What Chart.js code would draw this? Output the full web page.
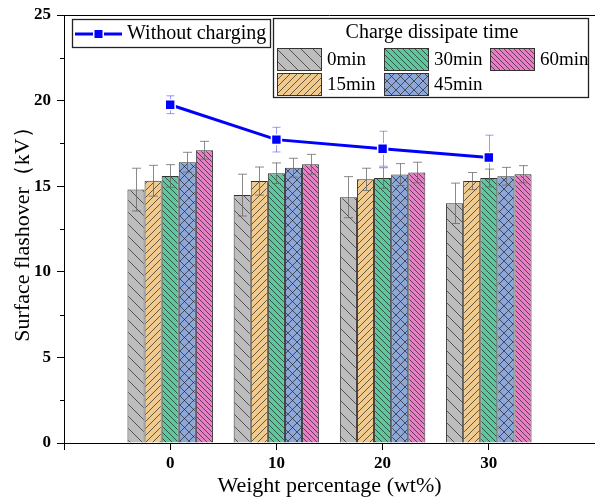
<!DOCTYPE html>
<html>
<head>
<meta charset="utf-8">
<script src="https://cdn.jsdelivr.net/npm/chart.js@4.4.0/dist/chart.umd.min.js"></script>
<style>
  html, body { margin: 0; padding: 0; background: #fff; overflow: hidden; }
  canvas { display: block; }
</style>
</head>
<body>
<canvas id="myChart" width="595" height="501"></canvas>
<script>
// weight percentage (wt%) of each group
const weights = [0, 10, 20, 30];
const xTicks = [-10, 0, 10, 20, 30, 40];
const yTicks = [0, 5, 10, 15, 20, 25];

// charge dissipate time series
const names = ['0min', '15min', '30min', '45min', '60min'];
const min0 = [14.8, 14.48, 14.36, 14.0];
const min15 = [15.32, 15.3, 15.4, 15.3];
const min30 = [15.6, 15.76, 15.48, 15.48];
const min45 = [16.4, 16.08, 15.68, 15.58];
const min60 = [17.1, 16.28, 15.8, 15.7];
const err0 = [1.25, 1.22, 1.2, 1.18];
const err15 = [0.9, 0.82, 0.65, 0.5];
const err30 = [0.66, 0.6, 0.6, 0.52];
const err45 = [0.58, 0.55, 0.64, 0.52];
const err60 = [0.52, 0.58, 0.6, 0.5];

// without charging
const noCharge = [19.76, 17.72, 17.19, 16.68];
const noChargeErr = [0.52, 0.72, 1.02, 1.3];

const FONT = "'Liberation Serif', 'Times New Roman', serif";

function makePattern(bg, kind, s) {
  var c = document.createElement('canvas');
  c.width = s; c.height = s;
  var g = c.getContext('2d');
  g.fillStyle = bg;
  g.fillRect(0, 0, s, s);
  g.strokeStyle = 'rgba(30,30,30,0.85)';
  g.lineWidth = 0.8;
  g.beginPath();
  if (kind == 'back' || kind == 'cross') {
    g.moveTo(-1, -1); g.lineTo(s + 1, s + 1);
    g.moveTo(-1, s - 1); g.lineTo(1, s + 1);
    g.moveTo(s - 1, -1); g.lineTo(s + 1, 1);
  }
  if (kind == 'fwd' || kind == 'cross') {
    g.moveTo(-1, s + 1); g.lineTo(s + 1, -1);
    g.moveTo(-1, 1); g.lineTo(1, -1);
    g.moveTo(s - 1, s + 1); g.lineTo(s + 1, s - 1);
  }
  g.stroke();
  return g.createPattern(c, 'repeat');
}

const fills = [
  makePattern('#bdbdbd', 'back', 12),
  makePattern('#f1cb8e', 'fwd', 7),
  makePattern('#5fc79e', 'back', 6),
  makePattern('#8da7d9', 'cross', 9),
  makePattern('#e77fc4', 'back', 5)
];
const barValues = [min0, min15, min30, min45, min60];
const barErrors = [err0, err15, err30, err45, err60];

function pts(vals) {
  return weights.map(function(w, i) { return {x: w, y: vals[i]}; });
}

var datasets = [{
  type: 'line',
  label: 'Without charging',
  data: pts(noCharge),
  errors: noChargeErr,
  errColor: 'rgba(70,70,255,0.55)',
  errCap: 4,
  borderColor: '#0000ff',
  backgroundColor: '#0000ff',
  borderWidth: 3,
  pointStyle: 'rect',
  pointRadius: 7,
  pointBorderColor: '#fff',
  pointBorderWidth: 1.5,
  order: 0
}];
names.forEach(function(n, k) {
  datasets.push({
    type: 'bar',
    label: n,
    data: pts(barValues[k]),
    errors: barErrors[k],
    errColor: 'rgba(100,100,100,0.75)',
    errCap: 4.5,
    backgroundColor: fills[k],
    borderColor: '#333',
    borderWidth: 1,
    categoryPercentage: 0.805,
    barPercentage: 1,
    order: 1
  });
});

function drawErrors(chart, idx) {
  var ds = chart.data.datasets[idx];
  if (!ds.errors) return;
  var meta = chart.getDatasetMeta(idx);
  var y = chart.scales.y;
  var ctx = chart.ctx;
  ctx.save();
  ctx.strokeStyle = ds.errColor;
  ctx.lineWidth = 1;
  meta.data.forEach(function(el, i) {
    var v = ds.data[i].y, e = ds.errors[i];
    var x = Math.round(el.x) + 0.5;
    var t = y.getPixelForValue(v + e), b = y.getPixelForValue(v - e);
    ctx.beginPath();
    ctx.moveTo(x, t); ctx.lineTo(x, b);
    ctx.moveTo(x - ds.errCap, t); ctx.lineTo(x + ds.errCap, t);
    ctx.moveTo(x - ds.errCap, b); ctx.lineTo(x + ds.errCap, b);
    ctx.stroke();
  });
  ctx.restore();
}

const extras = {
  id: 'extras',
  beforeDatasetDraw: function(chart, args) {
    if (chart.data.datasets[args.index].type == 'line') drawErrors(chart, args.index);
  },
  afterDatasetDraw: function(chart, args) {
    if (chart.data.datasets[args.index].type == 'bar') drawErrors(chart, args.index);
  },
  afterDraw: function(chart) {
    var ctx = chart.ctx, a = chart.chartArea, ys = chart.scales.y;
    ctx.save();
    // top frame
    ctx.strokeStyle = '#000';
    ctx.lineWidth = 1;
    ctx.beginPath();
    ctx.moveTo(a.left, a.top + 0.5); ctx.lineTo(a.right, a.top + 0.5);
    ctx.stroke();
    // minor y ticks
    ctx.beginPath();
    for (var k = 0; k < yTicks.length - 1; k++) {
      var py = Math.round(ys.getPixelForValue((yTicks[k] + yTicks[k + 1]) / 2)) + 0.5;
      ctx.moveTo(a.left - 4, py); ctx.lineTo(a.left, py);
    }
    ctx.stroke();

    // legend 1
    ctx.lineWidth = 1.3;
    ctx.strokeStyle = '#222';
    ctx.strokeRect(72.5, 19.5, 198, 28);
    ctx.strokeStyle = '#0000ff';
    ctx.lineWidth = 3;
    ctx.beginPath(); ctx.moveTo(75, 34); ctx.lineTo(122, 34); ctx.stroke();
    ctx.fillStyle = '#fff';
    ctx.fillRect(93, 28.5, 11, 11);
    ctx.fillStyle = '#0000ff';
    ctx.fillRect(94.5, 30, 8, 8);
    ctx.fillStyle = '#000';
    ctx.font = '20px ' + FONT;
    ctx.textBaseline = 'middle';
    ctx.textAlign = 'left';
    ctx.fillText('Without charging', 127, 34);

    // legend 2
    ctx.lineWidth = 1.3;
    ctx.strokeStyle = '#222';
    ctx.strokeRect(273.5, 18.5, 315, 79);
    ctx.textAlign = 'center';
    ctx.fillText('Charge dissipate time', 432, 33);
    ctx.textAlign = 'left';
    ctx.font = '19px ' + FONT;
    var slots = [[277, 48], [277, 73], [384, 48], [384, 73], [490, 48]];
    names.forEach(function(n, k) {
      var sx = slots[k][0], sy = slots[k][1];
      ctx.fillStyle = fills[k];
      ctx.fillRect(sx, sy, 44, 22);
      ctx.lineWidth = 1;
      ctx.strokeStyle = '#333';
      ctx.strokeRect(sx + 0.5, sy + 0.5, 44, 22);
      ctx.fillStyle = '#000';
      ctx.fillText(n, sx + 50, sy + 12);
    });
    ctx.restore();
  }
};

new Chart('myChart', {
  type: 'bar',
  data: { datasets: datasets },
  plugins: [extras],
  options: {
    responsive: false,
    animation: false,
    events: [],
    layout: { autoPadding: false, padding: { top: 15, right: 0, left: 0, bottom: 0 } },
    plugins: { legend: { display: false }, tooltip: { enabled: false } },
    scales: {
      x: {
        type: 'linear',
        min: xTicks[0],
        max: xTicks[xTicks.length - 1],
        offset: false,
        afterFit: function(s) { s.height = 58; s.paddingLeft = 0; s.paddingRight = 0; },
        afterBuildTicks: function(s) { s.ticks = xTicks.map(function(v) { return {value: v}; }); },
        grid: { drawOnChartArea: false, offset: false, tickLength: 7, tickColor: '#000' },
        border: { color: '#000', width: 1 },
        ticks: {
          color: '#000',
          padding: 3,
          font: { family: FONT, size: 17, weight: 'bold' },
          callback: function(v) { return weights.indexOf(v) >= 0 ? String(v) : ''; }
        },
        title: {
          display: true,
          text: 'Weight percentage (wt%)',
          color: '#000',
          font: { family: FONT, size: 22 },
          padding: { top: 0, bottom: 2 }
        }
      },
      y: {
        min: 0,
        max: 25,
        afterFit: function(s) { s.width = 64; s.paddingTop = 0; s.paddingBottom = 0; },
        afterBuildTicks: function(s) { s.ticks = yTicks.map(function(v) { return {value: v}; }); },
        grid: { drawOnChartArea: false, tickLength: 7, tickColor: '#000' },
        border: { color: '#000', width: 1 },
        ticks: {
          color: '#000',
          padding: 6,
          font: { family: FONT, size: 17, weight: 'bold' }
        },
        title: {
          display: true,
          text: 'Surface flashover（kV）',
          color: '#000',
          font: { family: FONT, size: 22 },
          padding: { top: 10, bottom: 0 }
        }
      }
    }
  }
});
</script>
</body>
</html>
